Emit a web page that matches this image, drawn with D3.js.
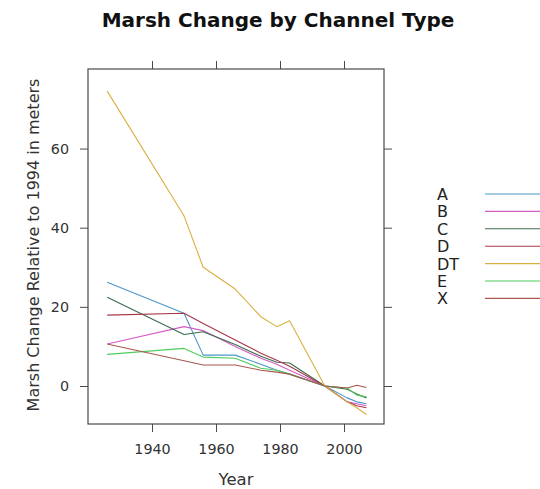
<!DOCTYPE html>
<html>
<head>
<meta charset="utf-8">
<script src="https://cdn.jsdelivr.net/npm/d3@7"></script>
<style>
  html, body { margin: 0; padding: 0; background: #fff; }
  svg { display: block; }
  text { font-family: "DejaVu Sans", "Liberation Sans", sans-serif; }
</style>
</head>
<body>
<svg id="chart" width="540" height="489"></svg>
<script>
// Survey years shared by every channel type
const years = [1926, 1950, 1956, 1966, 1974, 1979, 1983, 1994, 2001, 2004, 2007];

// Marsh change relative to 1994 (m), one array per channel type
const valuesA  = [26.2, 18.4, 7.8, 7.8, 5.5, 4.0, 3.0, 0, -3.0, -4.0, -4.5];
const valuesB  = [10.6, 15.0, 14.0, 10.0, 7.0, 5.5, 4.0, 0, -4.0, -4.5, -5.0];
const valuesC  = [22.4, 13.0, 13.7, 10.5, 7.5, 6.0, 5.8, 0, -0.8, -2.0, -3.0];
const valuesD  = [17.9, 18.4, 15.8, 11.6, 8.3, 6.5, 5.0, 0, -4.0, -5.0, -5.5];
const valuesDT = [74.5, 43.0, 30.0, 24.5, 17.5, 15.0, 16.5, 0, -4.0, -5.5, -7.2];
const valuesE  = [8.0, 9.5, 7.3, 7.0, 4.5, 4.0, 3.0, 0, -0.5, -2.3, -2.7];
const valuesX  = [10.6, 6.4, 5.3, 5.3, 4.0, 3.5, 3.0, 0, -0.5, 0.2, -0.4];

const channelTypes = ["A", "B", "C", "D", "DT", "E", "X"];
const seriesValues = [valuesA, valuesB, valuesC, valuesD, valuesDT, valuesE, valuesX];
const lineColors = ["#4a97c9", "#d25cc6", "#3c6d4c", "#a63848", "#d8b040", "#4fcc5e", "#a8584e"];

const xTicks = [1940, 1960, 1980, 2000];
const yTicks = [0, 20, 40, 60];

const svg = d3.select("#chart");
const panel = { left: 88, right: 384, top: 69, bottom: 424 };

const x = d3.scaleLinear().domain([1920, 2012.5]).range([panel.left, panel.right]);
const y = d3.scaleLinear().domain([-9.6, 80.1]).range([panel.bottom, panel.top]);

const axisColor = "#4a4a4a";
const labelColor = "#333";

// Title
svg.append("text")
  .attr("x", 278).attr("y", 27)
  .attr("text-anchor", "middle")
  .attr("font-size", 20).attr("font-weight", "bold")
  .attr("fill", "#111")
  .text("Marsh Change by Channel Type");

// Tick marks on all four sides, labels on bottom and left
function styleAxis(g) {
  g.select(".domain").remove();
  g.selectAll(".tick line").attr("stroke", axisColor);
  g.selectAll(".tick text")
    .attr("fill", labelColor)
    .attr("font-size", 14.3)
    .attr("font-family", "DejaVu Sans, sans-serif");
}

svg.append("g")
  .attr("transform", `translate(0,${panel.bottom})`)
  .call(d3.axisBottom(x).tickValues(xTicks).tickSize(8).tickPadding(12).tickFormat(d3.format("d")))
  .call(styleAxis);

svg.append("g")
  .attr("transform", `translate(0,${panel.top})`)
  .call(d3.axisTop(x).tickValues(xTicks).tickSize(8).tickFormat(""))
  .call(styleAxis);

svg.append("g")
  .attr("transform", `translate(${panel.left},0)`)
  .call(d3.axisLeft(y).tickValues(yTicks).tickSize(8).tickPadding(11))
  .call(styleAxis);

svg.append("g")
  .attr("transform", `translate(${panel.right},0)`)
  .call(d3.axisRight(y).tickValues(yTicks).tickSize(8).tickFormat(""))
  .call(styleAxis);

// Panel border
svg.append("rect")
  .attr("x", panel.left).attr("y", panel.top)
  .attr("width", panel.right - panel.left).attr("height", panel.bottom - panel.top)
  .attr("fill", "none").attr("stroke", axisColor).attr("stroke-width", 1.2);

// Series lines
const line = d3.line()
  .x((d, i) => x(years[i]))
  .y(d => y(d));

const plot = svg.append("g");
seriesValues.forEach((vals, k) => {
  plot.append("path")
    .datum(vals)
    .attr("d", line)
    .attr("fill", "none")
    .attr("stroke", lineColors[k])
    .attr("stroke-width", 1.1)
    .attr("stroke-linejoin", "round");
});

// Axis titles
svg.append("text")
  .attr("x", 236).attr("y", 485)
  .attr("text-anchor", "middle")
  .attr("font-size", 16.5).attr("fill", labelColor)
  .text("Year");

svg.append("text")
  .attr("transform", "translate(39,245) rotate(-90)")
  .attr("text-anchor", "middle")
  .attr("font-size", 16).attr("fill", labelColor)
  .text("Marsh Change Relative to 1994 in meters");

// Legend
const legend = svg.append("g");
const legendTop = 194, legendStep = 17.4;
channelTypes.forEach((name, k) => {
  const ly = legendTop + k * legendStep;
  legend.append("text")
    .attr("x", 437).attr("y", ly + 6)
    .attr("font-size", 16).attr("fill", "#222")
    .text(name);
  legend.append("line")
    .attr("x1", 485).attr("x2", 548)
    .attr("y1", ly).attr("y2", ly)
    .attr("stroke", lineColors[k]).attr("stroke-width", 1.1);
});
</script>
</body>
</html>
